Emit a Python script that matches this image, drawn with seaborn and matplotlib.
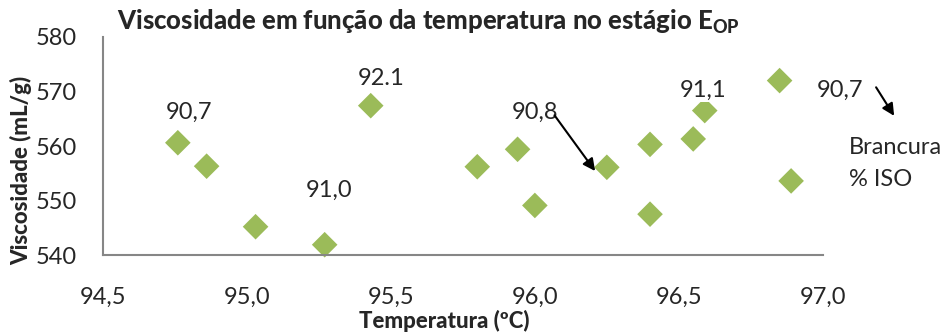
import seaborn as sns
import pandas as pd
import matplotlib.pyplot as plt

temperatura = [94.76, 94.86, 95.03, 95.27, 95.43, 95.80, 95.94, 96.00,
               96.25, 96.40, 96.40, 96.55, 96.59, 96.85, 96.89]
viscosidade = [560.6, 556.3, 545.2, 541.9, 567.4, 556.2, 559.4, 549.1,
               556.1, 560.3, 547.5, 561.3, 566.5, 572.0, 553.6]

# brancura labels (text, x, y)
rotulos = ['90,7', '92.1', '91,0', '90,8', '91,1', '90,7']
rot_x = [94.80, 95.465, 95.285, 96.00, 96.583, 97.059]
rot_y = [566.1, 572.3, 551.9, 566.1, 570.3, 570.3]

df = pd.DataFrame({'Temperatura': temperatura, 'Viscosidade': viscosidade})

sns.set_style('white')
plt.rcParams['font.family'] = ['Lato', 'DejaVu Sans']
plt.rcParams['mathtext.fontset'] = 'custom'
plt.rcParams['mathtext.bf'] = 'Lato:black'
plt.rcParams['mathtext.rm'] = 'Lato'

fig = plt.figure(figsize=(9.49, 3.33), dpi=100)
ax = fig.add_axes([0.1085, 0.234, 0.7585, 0.655])

sns.scatterplot(data=df, x='Temperatura', y='Viscosidade', ax=ax, marker='D',
                s=170, color='#9BBB59', edgecolor='none', clip_on=False, zorder=2)

ax.set_xlim(94.5, 97.0)
ax.set_ylim(540, 580)
ax.set_xticks([94.5, 95.0, 95.5, 96.0, 96.5, 97.0])
ax.set_xticklabels(['94,5', '95,0', '95,5', '96,0', '96,5', '97,0'])
ax.set_yticks([540, 550, 560, 570, 580])
ax.tick_params(axis='x', length=0, pad=23, labelsize=17)
ax.tick_params(axis='y', length=0, pad=19, labelsize=17)

for s in ['top', 'right']:
    ax.spines[s].set_visible(False)
for s in ['left', 'bottom']:
    ax.spines[s].set_color('#868686')
    ax.spines[s].set_linewidth(1.5)

ax.set_xlabel('Temperatura (ºC)', fontsize=16, fontweight='black')
ax.set_ylabel('Viscosidade (mL/g)', fontsize=16, fontweight='black')
ax.xaxis.set_label_coords(0.474, -0.252)
ax.yaxis.set_label_coords(-0.099, 0.39)
fig.text(117 / 949, 1 - 22 / 333,
         r'Viscosidade em função da temperatura no estágio $\mathbf{E}_{\mathbf{OP}}$',
         fontsize=18.5, fontweight='black', ha='left', va='center')

for t, x, y in zip(rotulos, rot_x, rot_y):
    ax.text(x, y, t, ha='center', va='center', fontsize=17, zorder=3,
            bbox=dict(facecolor='white', edgecolor='none', pad=1), clip_on=False)

ax.text(97.09, 559.8, 'Brancura', ha='left', va='center', fontsize=17)
ax.text(97.09, 553.8, '% ISO', ha='left', va='center', fontsize=17)

ax.annotate('', xy=(96.215, 555.0), xytext=(96.0625, 566.05), annotation_clip=False,
            arrowprops=dict(arrowstyle='-|>', color='black', lw=1.5, mutation_scale=18))
ax.annotate('', xy=(97.253, 565.1), xytext=(97.18, 571.2), annotation_clip=False,
            arrowprops=dict(arrowstyle='-|>', color='black', lw=1.5, mutation_scale=18))

plt.savefig('out.png', dpi=100)
